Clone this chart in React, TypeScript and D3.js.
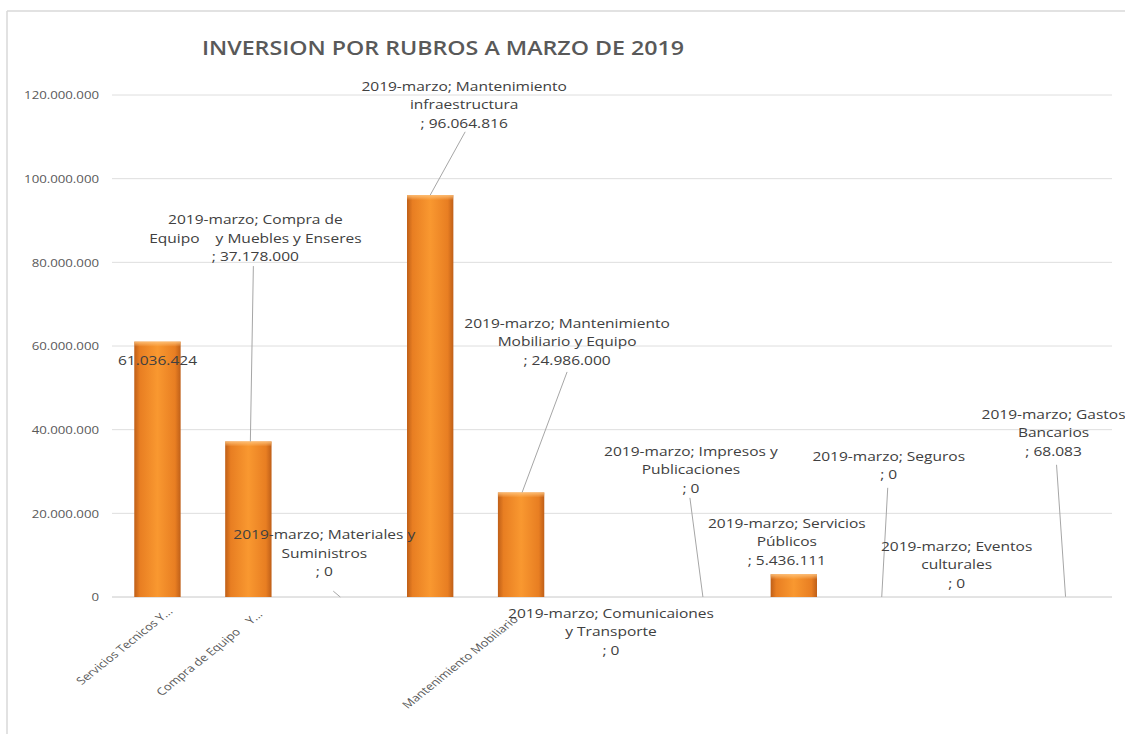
import React from "react";
import * as d3 from "d3";

const W = 1125;
const H = 734;
const SX = 1.15; // horizontal stretch of the source picture's text
const FONT = "'Open Sans', 'Liberation Sans', sans-serif";

const title = "INVERSION POR RUBROS A MARZO DE 2019";
const seriesName = "2019-marzo";

const categories = [
  "Servicios Tecnicos Y...",
  "Compra de Equipo y Muebles y Enseres",
  "Materiales y Suministros",
  "Mantenimiento infraestructura",
  "Mantenimiento Mobiliario y Equipo",
  "Comunicaiones y Transporte",
  "Impresos y Publicaciones",
  "Servicios Públicos",
  "Seguros",
  "Eventos culturales",
  "Gastos Bancarios",
];

const values = [61036424, 37178000, 0, 96064816, 24986000, 0, 0, 5436111, 0, 0, 68083];

const yTicks = [0, 20000000, 40000000, 60000000, 80000000, 100000000, 120000000];

const axisLabels = [
  "Servicios Tecnicos Y...",
  "Compra de Equipo    Y...",
  "",
  "",
  "Mantenimiento Mobiliario",
  "",
  "",
  "",
  "",
  "",
  "",
];

// x/y shift of each axis label's end point (px) from the tick
const axisLabelShift = [
  { dx: 12, dy: 12 },
  { dx: 11, dy: 15 },
  { dx: 0, dy: 0 },
  { dx: 0, dy: 0 },
  { dx: -6, dy: 20 },
  { dx: 0, dy: 0 },
  { dx: 0, dy: 0 },
  { dx: 0, dy: 0 },
  { dx: 0, dy: 0 },
  { dx: 0, dy: 0 },
  { dx: 0, dy: 0 },
];

// wrapped name lines of each data label (value line is added from values)
const labelNameLines = [
  [],
  [seriesName + "; Compra de", "Equipo    y Muebles y Enseres"],
  [seriesName + "; Materiales y", "Suministros"],
  [seriesName + "; Mantenimiento", "infraestructura"],
  [seriesName + "; Mantenimiento", "Mobiliario y Equipo"],
  [seriesName + "; Comunicaiones", "y Transporte"],
  [seriesName + "; Impresos y", "Publicaciones"],
  [seriesName + "; Servicios", "Públicos"],
  [seriesName + "; Seguros"],
  [seriesName + "; Eventos", "culturales"],
  [seriesName + "; Gastos", "Bancarios"],
];

// label placement: x offset from band centre (px), first line level (millions),
// leader: start offset/level and end offset at the bar top
const labelLayout = [
  { dx: 0, top: 56.9, leader: null },
  { dx: 7, top: 90.4, leader: { sdx: 5, s: 79.1, edx: 2 } },
  { dx: -15, top: 15.1, leader: { sdx: -6, s: 1.4, edx: 1 } },
  { dx: 34, top: 122.4, leader: { sdx: 35, s: 111.2, edx: 0 } },
  { dx: 46, top: 65.7, leader: { sdx: 46, s: 53.8, edx: 1 } },
  { dx: -1, top: -3.6, leader: null },
  { dx: -12, top: 35.1, leader: { sdx: -13, s: 23.7, edx: 0 } },
  { dx: -7, top: 17.9, leader: null },
  { dx: 4, top: 33.9, leader: { sdx: 3, s: 26.1, edx: -3 } },
  { dx: -19, top: 12.4, leader: null },
  { dx: -13, top: 44.0, leader: { sdx: -10, s: 31.6, edx: -1 } },
];

const locale = d3.formatLocale({ decimal: ",", thousands: ".", grouping: [3], currency: ["", ""] });
const fmt = locale.format(",.0f");

const PLOT = { left: 112, right: 1112, top: 95, bottom: 597 };

function T(props: any) {
  const { x, y, size, anchor = "middle", fill = "#404040", weight = 400, children, sx = SX } = props;
  return (
    <text
      transform={`translate(${x},${y}) scale(${sx},1)`}
      textAnchor={anchor}
      dominantBaseline="central"
      fontSize={size}
      fontFamily={FONT}
      fontWeight={weight}
      fill={fill}
      style={{ whiteSpace: "pre" }}
    >
      {children}
    </text>
  );
}

export default function App() {
  const x = d3
    .scaleBand<string>()
    .domain(categories)
    .range([PLOT.left, PLOT.right])
    .paddingInner(0.49)
    .paddingOuter(0.245);
  const y = d3.scaleLinear().domain([0, 120000000]).range([PLOT.bottom, PLOT.top]);
  const bw = x.bandwidth();
  const cx = (c: string) => (x(c) as number) + bw / 2;
  const LH = 18.5;

  return (
    <svg width={W} height={H} style={{ position: "absolute", left: 0, top: 0, background: "#fff" }}>
      <defs>
        <linearGradient id="barGrad" x1="0" x2="1" y1="0" y2="0">
          <stop offset="0%" stopColor="#BF5F18" />
          <stop offset="12%" stopColor="#E87E22" />
          <stop offset="50%" stopColor="#F99830" />
          <stop offset="88%" stopColor="#E87E22" />
          <stop offset="100%" stopColor="#BF5F18" />
        </linearGradient>
        <linearGradient id="barTop" x1="0" x2="0" y1="0" y2="1">
          <stop offset="0%" stopColor="#FFC27A" stopOpacity={0.9} />
          <stop offset="100%" stopColor="#FFC27A" stopOpacity={0} />
        </linearGradient>
      </defs>

      {/* chart frame */}
      <line x1={7} x2={7} y1={11} y2={H} stroke="#d9d9d9" strokeWidth={1.5} />
      <line x1={7} x2={W} y1={11} y2={11} stroke="#d9d9d9" strokeWidth={1.5} />

      {/* title */}
      <T x={443} y={47} size={20.2} weight={600} fill="#595959">
        {title}
      </T>

      {/* gridlines and y ticks */}
      {yTicks.map((t) => (
        <g key={t}>
          <line
            x1={PLOT.left}
            x2={PLOT.right}
            y1={y(t)}
            y2={y(t)}
            stroke={t === 0 ? "#c8c8c8" : "#dedede"}
            strokeWidth={1}
          />
          <T x={99} y={y(t)} size={11.5} anchor="end" fill="#595959">
            {fmt(t)}
          </T>
        </g>
      ))}

      {/* bars */}
      {categories.map((c, i) => {
        const v = values[i];
        const h = y(0) - y(v);
        if (h < 0.5) return null;
        return (
          <g key={c}>
            <rect x={x(c)} y={y(v)} width={bw} height={h} fill="url(#barGrad)" />
            <rect x={x(c)} y={y(v)} width={bw} height={Math.min(5, h)} fill="url(#barTop)" />
          </g>
        );
      })}

      {/* x axis labels */}
      {categories.map((c, i) =>
        axisLabels[i] ? (
          <text
            key={c}
            transform={`translate(${cx(c) + axisLabelShift[i].dx},${y(0) + axisLabelShift[i].dy}) scale(1.25,1) rotate(-45)`}
            textAnchor="end"
            dominantBaseline="central"
            fontSize={10.4}
            fontFamily={FONT}
            fill="#595959"
            style={{ whiteSpace: "pre" }}
          >
            {axisLabels[i]}
          </text>
        ) : null
      )}

      {/* leader lines */}
      {categories.map((c, i) => {
        const L = labelLayout[i].leader;
        if (!L) return null;
        return (
          <line
            key={c}
            x1={cx(c) + L.sdx}
            y1={y(L.s * 1e6)}
            x2={cx(c) + L.edx}
            y2={y(values[i])}
            stroke="#a6a6a6"
            strokeWidth={1}
          />
        );
      })}

      {/* data labels */}
      {categories.map((c, i) => {
        const lay = labelLayout[i];
        const lines = labelNameLines[i].length
          ? [...labelNameLines[i], "; " + fmt(values[i])]
          : [fmt(values[i])];
        const y0 = y(lay.top * 1e6);
        return (
          <g key={c}>
            {lines.map((ln, k) => (
              <T key={k} x={cx(c) + lay.dx} y={y0 + k * LH} size={13.5} fill="#404040">
                {ln}
              </T>
            ))}
          </g>
        );
      })}
    </svg>
  );
}
